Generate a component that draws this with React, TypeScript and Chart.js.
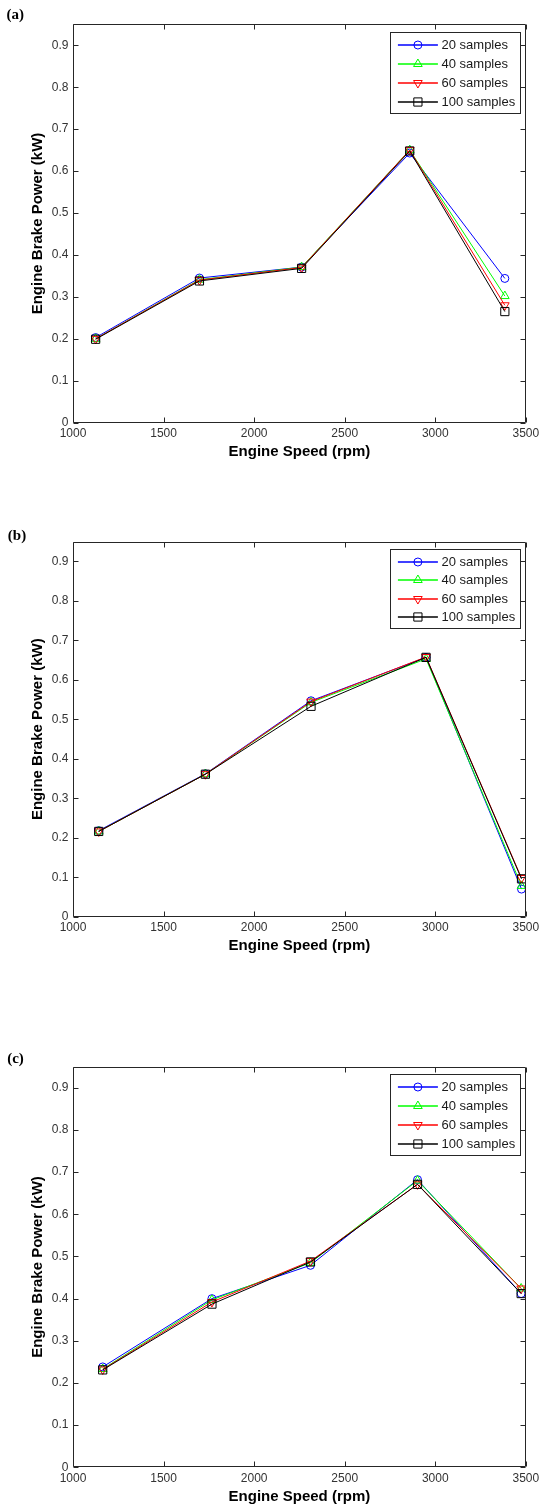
import React, { useEffect, useRef } from 'react';
import { Chart, registerables } from 'chart.js';

Chart.register(...registerables);

// ---------- data ----------
const SERIES_LABELS = ['20 samples', '40 samples', '60 samples', '100 samples'];
const SERIES_COLORS = ['#0000ff', '#00ff00', '#ff0000', '#000000'];
const SERIES_STYLES = ['circle', 'triangle', 'triangle', 'rect'];
const SERIES_ROTATION = [0, 0, 180, 0];
const SERIES_RADIUS = [4, 5, 5, 5.8];

const X_TICKS = [1000, 1500, 2000, 2500, 3000, 3500];
const X_TICK_LABELS = ['1000', '1500', '2000', '2500', '3000', '3500'];
const Y_TICKS = [0, 0.1, 0.2, 0.3, 0.4, 0.5, 0.6, 0.7, 0.8, 0.9];
const Y_TICK_LABELS = ['0', '0.1', '0.2', '0.3', '0.4', '0.5', '0.6', '0.7', '0.8', '0.9'];

// panel (a)
const speedA = [1125, 1698, 2262, 2859, 3384];
const powerA20 = [0.203, 0.345, 0.371, 0.643, 0.344];
const powerA40 = [0.2, 0.341, 0.371, 0.65, 0.302];
const powerA60 = [0.2, 0.34, 0.37, 0.65, 0.28];
const powerA100 = [0.199, 0.338, 0.368, 0.648, 0.265];

// panel (b)
const speedB = [1142, 1731, 2314, 2949, 3476];
const powerB20 = [0.218, 0.362, 0.547, 0.657, 0.07];
const powerB40 = [0.216, 0.361, 0.543, 0.653, 0.078];
const powerB60 = [0.216, 0.361, 0.545, 0.658, 0.098];
const powerB100 = [0.216, 0.361, 0.533, 0.657, 0.096];

// panel (c)
const speedC = [1164, 1767, 2311, 2902, 3474];
const powerC20 = [0.238, 0.4, 0.479, 0.682, 0.412];
const powerC40 = [0.233, 0.397, 0.485, 0.68, 0.424];
const powerC60 = [0.232, 0.392, 0.489, 0.671, 0.424];
const powerC100 = [0.231, 0.387, 0.487, 0.671, 0.412];

const FONT = "'Liberation Sans', Arial, sans-serif";

type PanelCfg = {
  tag: string;
  tagLeft: number;
  tagTop: number;
  top: number;
  height: number;
  padTop: number;
  xh: number;
  rowGap: number;
  speed: number[];
  powers: number[][];
};

const PANELS: PanelCfg[] = [
  { tag: '(a)', tagLeft: 6.5, tagTop: 6.8, top: 0, height: 463, padTop: 24.3, xh: 40.3, rowGap: 19, speed: speedA, powers: [powerA20, powerA40, powerA60, powerA100] },
  { tag: '(b)', tagLeft: 7.8, tagTop: 528.1, top: 495, height: 462, padTop: 46.7, xh: 40.3, rowGap: 18.4, speed: speedB, powers: [powerB20, powerB40, powerB60, powerB100] },
  { tag: '(c)', tagLeft: 7.2, tagTop: 1051.1, top: 990, height: 518, padTop: 76.7, xh: 40.7, rowGap: 19.1, speed: speedC, powers: [powerC20, powerC40, powerC60, powerC100] },
];

// ---------- drawing helpers ----------
function drawMarker(ctx: CanvasRenderingContext2D, style: string, r: number, rotDeg: number, x: number, y: number) {
  ctx.beginPath();
  if (style === 'circle') {
    ctx.arc(x, y, r, 0, Math.PI * 2);
  } else if (style === 'triangle') {
    let rad = (rotDeg * Math.PI) / 180;
    ctx.moveTo(x + Math.sin(rad) * r, y - Math.cos(rad) * r);
    rad += (2 * Math.PI) / 3;
    ctx.lineTo(x + Math.sin(rad) * r, y - Math.cos(rad) * r);
    rad += (2 * Math.PI) / 3;
    ctx.lineTo(x + Math.sin(rad) * r, y - Math.cos(rad) * r);
    ctx.closePath();
  } else {
    const h = r * Math.SQRT1_2;
    ctx.rect(x - h, y - h, 2 * h, 2 * h);
  }
  ctx.stroke();
}

const framePlugin = {
  id: 'frame',
  afterDatasetsDraw(chart: any) {
    const { ctx, chartArea, scales } = chart;
    const L = Math.round(chartArea.left) + 0.5;
    const R = Math.round(chartArea.right) - 0.5;
    const T = Math.round(chartArea.top) + 0.5;
    const B = Math.round(chartArea.bottom) - 0.5;
    ctx.save();
    ctx.strokeStyle = '#262626';
    ctx.lineWidth = 1;
    ctx.beginPath();
    ctx.rect(L, T, R - L, B - T);
    ctx.stroke();
    const tl = 5;
    ctx.beginPath();
    scales.x.ticks.forEach((t: any) => {
      const px = Math.round(scales.x.getPixelForValue(t.value)) + 0.5;
      ctx.moveTo(px, B);
      ctx.lineTo(px, B - tl);
      ctx.moveTo(px, T);
      ctx.lineTo(px, T + tl);
    });
    scales.y.ticks.forEach((t: any) => {
      const py = Math.round(scales.y.getPixelForValue(t.value)) + 0.5;
      ctx.moveTo(L, py);
      ctx.lineTo(L + tl, py);
      ctx.moveTo(R, py);
      ctx.lineTo(R - tl, py);
    });
    ctx.stroke();
    ctx.restore();
  },
};

const boxLegendPlugin = {
  id: 'boxLegend',
  afterDraw(chart: any, _args: any, opts: any) {
    const { ctx, chartArea } = chart;
    const rowGap = opts.rowGap || 19;
    const w = 130;
    const x0 = Math.round(chartArea.right - 5.5 - w) + 0.5;
    const y0 = Math.round(chartArea.top + 7.2) + 0.5;
    const h = Math.round(12.3 + 3 * rowGap + 11.3);
    ctx.save();
    ctx.fillStyle = '#ffffff';
    ctx.fillRect(x0, y0, w, h);
    ctx.strokeStyle = '#262626';
    ctx.lineWidth = 1;
    ctx.strokeRect(x0, y0, w, h);
    chart.data.datasets.forEach((ds: any, i: number) => {
      const color = SERIES_COLORS[i];
      const cy = Math.round(y0 + 12.3 + i * rowGap);
      ctx.strokeStyle = color;
      ctx.lineWidth = 1.3;
      ctx.beginPath();
      ctx.moveTo(x0 + 7.4, cy);
      ctx.lineTo(x0 + 47.4, cy);
      ctx.stroke();
      ctx.lineWidth = 1;
      drawMarker(ctx, ds.pointStyle, ds.pointRadius, ds.pointRotation || 0, x0 + 27.4, cy);
      ctx.fillStyle = '#1a1a1a';
      ctx.font = `13px ${FONT}`;
      ctx.textAlign = 'left';
      ctx.textBaseline = 'middle';
      ctx.fillText(ds.label, x0 + 51, cy + 0.5);
    });
    ctx.restore();
  },
};

function Panel({ cfg }: { cfg: PanelCfg }) {
  const ref = useRef<HTMLCanvasElement>(null);
  useEffect(() => {
    if (!ref.current) return;
    const datasets = SERIES_LABELS.map((label, i) => ({
      label,
      data: cfg.speed.map((x, j) => ({ x, y: cfg.powers[i][j] })),
      borderColor: SERIES_COLORS[i],
      backgroundColor: 'rgba(0,0,0,0)',
      borderWidth: 1,
      pointStyle: SERIES_STYLES[i],
      pointRadius: SERIES_RADIUS[i],
      pointRotation: SERIES_ROTATION[i],
      pointBorderColor: SERIES_COLORS[i],
      pointBackgroundColor: 'rgba(0,0,0,0)',
      pointBorderWidth: 1,
      tension: 0,
      fill: false,
      order: 4 - i,
    }));
    const chart = new Chart(ref.current, {
      type: 'line',
      data: { datasets },
      plugins: [framePlugin, boxLegendPlugin],
      options: {
        responsive: false,
        animation: false,
        events: [],
        layout: { padding: { left: 0, right: 14, top: cfg.padTop, bottom: 0 } },
        plugins: {
          legend: { display: false },
          tooltip: { enabled: false },
          boxLegend: { rowGap: cfg.rowGap },
        } as any,
        scales: {
          x: {
            type: 'linear',
            position: 'bottom',
            min: 1000,
            max: 3500,
            afterBuildTicks: (s: any) => {
              s.ticks = X_TICKS.map((value) => ({ value }));
            },
            afterFit: (s: any) => {
              s.height = cfg.xh;
            },
            grid: { display: false, drawTicks: false },
            border: { display: false },
            ticks: {
              padding: 3.8,
              maxRotation: 0,
              autoSkip: false,
              color: '#333333',
              font: { family: FONT, size: 12 },
              callback: (_v: any, i: number) => X_TICK_LABELS[i],
            },
            title: {
              display: true,
              text: 'Engine Speed (rpm)',
              color: '#000000',
              font: { family: FONT, size: 15, weight: 'bold' },
              padding: { top: 0, bottom: 2.3 },
            },
          },
          y: {
            type: 'linear',
            position: 'left',
            min: 0,
            max: 0.95,
            afterBuildTicks: (s: any) => {
              s.ticks = Y_TICKS.map((value) => ({ value }));
            },
            afterFit: (s: any) => {
              s.width = 73;
            },
            grid: { display: false, drawTicks: false },
            border: { display: false },
            ticks: {
              padding: 4.5,
              color: '#333333',
              font: { family: FONT, size: 12 },
              callback: (_v: any, i: number) => Y_TICK_LABELS[i],
            },
            title: {
              display: true,
              text: 'Engine Brake Power (kW)',
              color: '#000000',
              font: { family: FONT, size: 15, weight: 'bold' },
              padding: { top: 29, bottom: 0 },
            },
          },
        },
      } as any,
    });
    return () => chart.destroy();
  }, [cfg]);
  return (
    <div style={{ position: 'absolute', left: 0, top: cfg.top, width: 543, height: cfg.height }}>
      <canvas ref={ref} width={543} height={cfg.height} style={{ width: 543, height: cfg.height, display: 'block' }} />
    </div>
  );
}

export default function App() {
  return (
    <div style={{ position: 'absolute', left: 0, top: 0, width: 543, height: 1510, overflow: 'hidden', background: '#ffffff' }}>
      {PANELS.map((p) => (
        <React.Fragment key={p.tag}>
          <Panel cfg={p} />
          <div
            style={{
              position: 'absolute',
              left: p.tagLeft,
              top: p.tagTop,
              fontFamily: "'Liberation Serif', 'Times New Roman', serif",
              fontWeight: 'bold',
              fontSize: 15,
              lineHeight: '15px',
              color: '#000000',
            }}
          >
            {p.tag}
          </div>
        </React.Fragment>
      ))}
    </div>
  );
}
